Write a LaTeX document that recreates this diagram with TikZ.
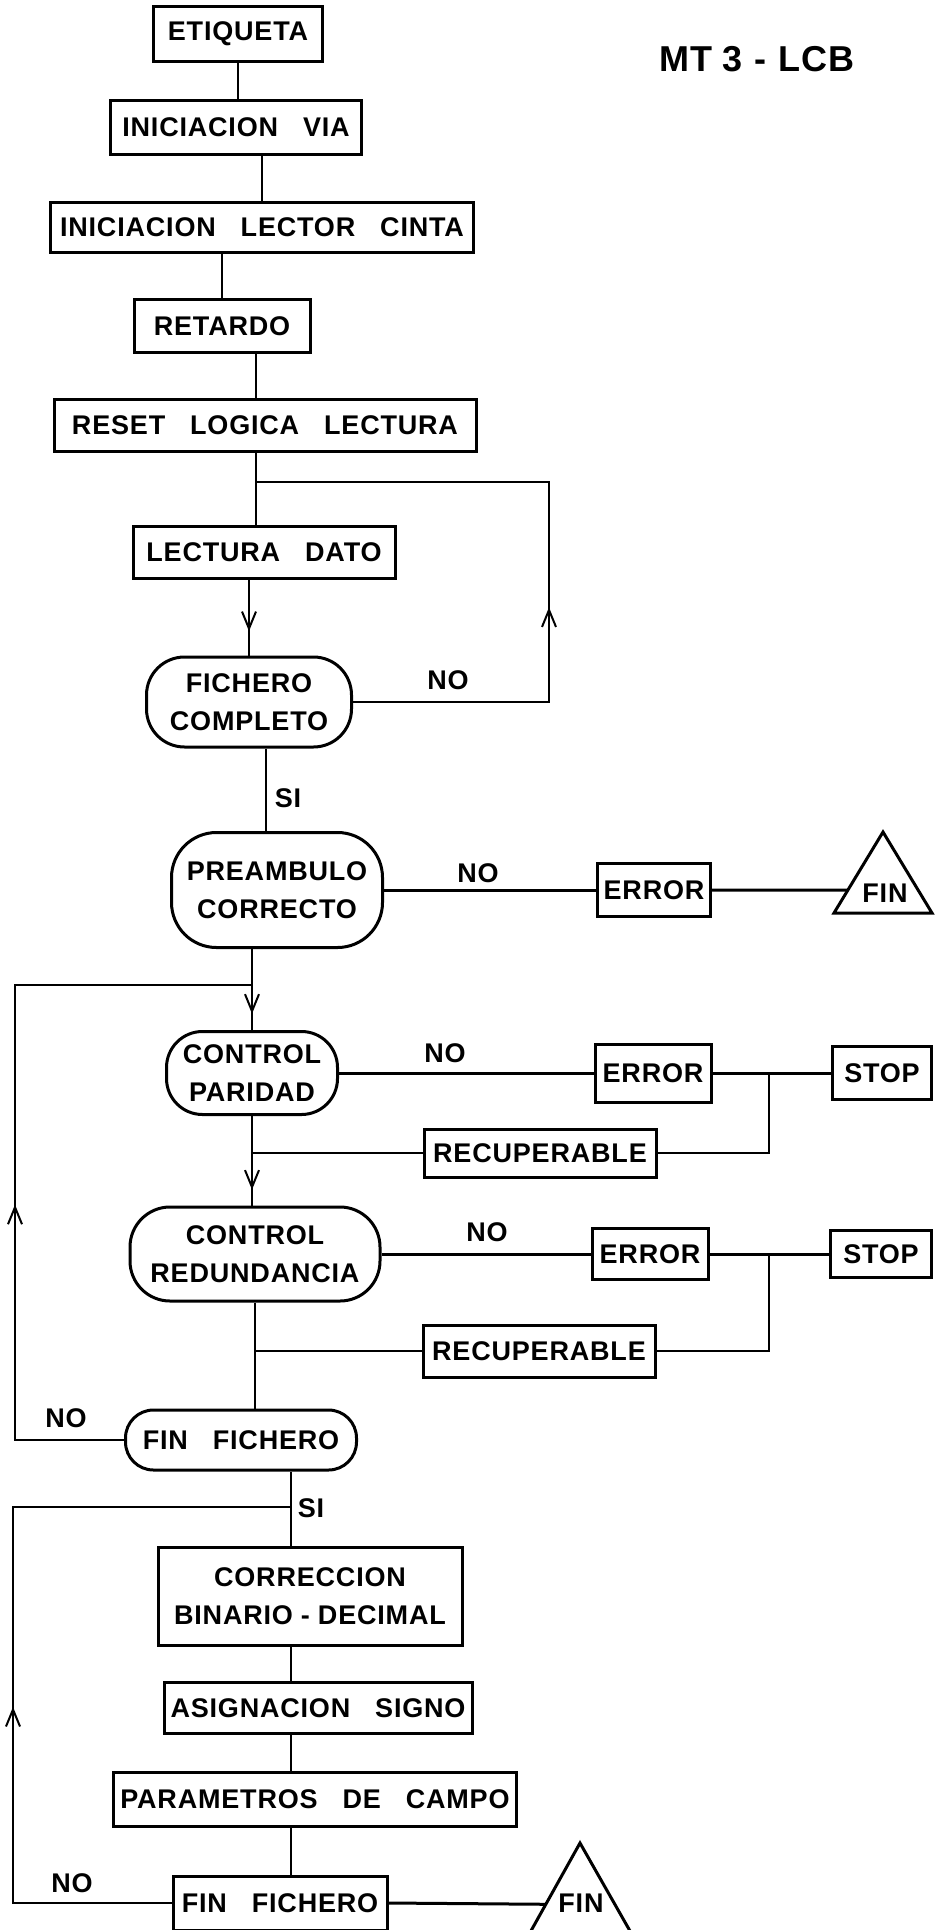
\documentclass[tikz,border=0pt]{standalone}
\usepackage{fontspec}
\setmainfont{Liberation Sans}[LetterSpace=3,WordSpace=3]
\usetikzlibrary{arrows.meta,decorations.markings,calc}
\newcommand\flowfont{\fontsize{27}{38}\selectfont\bfseries}
\tikzset{
  stepbox/.style={draw, line width=3pt, inner sep=0pt, align=center, font=\flowfont},
  decbox/.style={stepbox, rounded corners=#1},
  lab/.style={inner sep=0pt, font=\flowfont},
  conn/.style={line width=2pt, line join=miter},
  hconn/.style={line width=3pt},
  arrowat/.style={postaction={decorate}, decoration={markings, mark=at position #1 with {\arrow{Straight Barb[length=17pt,width=14pt,line width=2pt]}}}},
}
\begin{document}
\begin{tikzpicture}[x=1pt,y=-1pt]
\fill[white] (0,0) rectangle (937,1930);
\useasboundingbox (0,0) rectangle (937,1930);

% title
\node[lab, font=\fontsize{36}{42}\selectfont\bfseries] (title) at (757,59) {MT\hspace{10pt}3\hspace{12pt}-\hspace{12pt}LCB};

% boxes
\node[stepbox, minimum width=169pt, minimum height=55pt] (etiq) at (238,34) {ETIQUETA};
\node[stepbox, minimum width=251pt, minimum height=54pt] (iv) at (236,127) {INICIACION VIA};
\node[stepbox, minimum width=423pt, minimum height=50pt] (ilc) at (262,227) {INICIACION LECTOR CINTA};
\node[stepbox, minimum width=176pt, minimum height=53pt] (ret) at (222,326) {RETARDO};
\node[stepbox, minimum width=422pt, minimum height=52pt] (rll) at (265,425) {RESET LOGICA LECTURA};
\node[stepbox, minimum width=262pt, minimum height=52pt] (ld) at (264,552) {LECTURA DATO};
\node[decbox=38pt, minimum width=205pt, minimum height=90pt] (fc) at (249,702) {FICHERO\\COMPLETO};
\node[decbox=45pt, minimum width=211pt, minimum height=115pt] (pc) at (277,890) {PREAMBULO\\CORRECTO};
\node[stepbox, minimum width=113pt, minimum height=53pt] (err1) at (654,890) {ERROR};
\node[decbox=36pt, minimum width=171pt, minimum height=83pt] (cp) at (252,1073) {CONTROL\\PARIDAD};
\node[stepbox, minimum width=116pt, minimum height=58pt] (err2) at (653,1073) {ERROR};
\node[stepbox, minimum width=99pt, minimum height=53pt] (stop1) at (882,1073) {STOP};
\node[stepbox, minimum width=232pt, minimum height=48pt] (rec1) at (540,1153) {RECUPERABLE};
\node[decbox=40pt, minimum width=250pt, minimum height=94pt] (cr) at (255,1254) {CONTROL\\REDUNDANCIA};
\node[stepbox, minimum width=116pt, minimum height=51pt] (err3) at (650,1254) {ERROR};
\node[stepbox, minimum width=101pt, minimum height=47pt] (stop2) at (881,1254) {STOP};
\node[stepbox, minimum width=232pt, minimum height=52pt] (rec2) at (539,1351) {RECUPERABLE};
\node[decbox=28pt, minimum width=231pt, minimum height=60pt] (ff1) at (241,1440) {FIN FICHERO};
\node[stepbox, minimum width=304pt, minimum height=98pt] (corr) at (310,1596) {CORRECCION\\BINARIO\hspace{8pt}-\hspace{8pt}DECIMAL};
\node[stepbox, minimum width=308pt, minimum height=51pt] (asig) at (318,1708) {ASIGNACION SIGNO};
\node[stepbox, minimum width=403pt, minimum height=54pt] (param) at (315,1799) {PARAMETROS DE CAMPO};
\node[stepbox, minimum width=214pt, minimum height=54pt] (ff2) at (280,1903) {FIN FICHERO};

% end triangles
\coordinate (f1a) at (883,832); \coordinate (f1l) at (834,913); \coordinate (f1r) at (932,913);
\draw[line width=3pt, line join=miter] (f1a) -- (f1l) -- (f1r) -- cycle;
\node[lab] (fin1) at (885,893) {FIN};
\coordinate (f2a) at (580,1843); \coordinate (f2l) at (527,1938); \coordinate (f2r) at (634,1938);
\draw[line width=3pt, line join=miter] (f2a) -- (f2l) -- (f2r) -- cycle;
\node[lab] (fin2) at (581,1903) {FIN};

% labels
\node[lab] (no1) at (448,680) {NO};
\node[lab] (si1) at (288,798) {SI};
\node[lab] (no2) at (478,873) {NO};
\node[lab] (no3) at (445,1053) {NO};
\node[lab] (no4) at (487,1232) {NO};
\node[lab] (no5) at (66,1418) {NO};
\node[lab] (si2) at (311,1508) {SI};
\node[lab] (no6) at (72,1883) {NO};

% junction points
\coordinate (jT) at (256,482);
\coordinate (jTr) at (549,482);
\coordinate (jA) at (252,985);
\coordinate (lA) at (15,985);
\coordinate (k1) at (769,1073);
\coordinate (k2) at (769,1254);
\coordinate (jR1) at (252,1153);
\coordinate (jR2) at (255,1351);
\coordinate (jC) at (291,1507);
\coordinate (lC) at (13,1507);

% connectors
\draw[conn] (etiq.south) -- (etiq.south |- iv.north);
\draw[conn] (iv.south -| ilc.north) -- (ilc.north);
\draw[conn] (ret.north |- ilc.south) -- (ret.north);
\draw[conn] (ret.south -| jT) -- (rll.north -| jT);
\draw[conn] (rll.south -| jT) -- (ld.north -| jT);
\draw[conn, arrowat=0.41] (fc.east) -- (fc.east -| jTr) -- (jTr) -- (jT);
\draw[conn, arrowat=0.68] (ld.south -| fc.north) -- (fc.north);
\draw[conn] ([xshift=17pt]fc.south) -- ([xshift=17pt]fc.south |- pc.north);
\draw[hconn] (pc.east) -- (err1.west);
\draw[hconn] (err1.east) -- ($(f1a)!0.716!(f1l)$);
\draw[conn] (pc.south -| jA) -- (jA);
\draw[conn, arrowat=0.64] (jA) -- (cp.north);
\draw[conn, arrowat=0.43] (ff1.west) -- (ff1.west -| lA) -- (lA) -- (jA);
\draw[hconn] (cp.east) -- (err2.west);
\draw[hconn] (err2.east) -- (stop1.west);
\draw[conn] (k1) -- (k1 |- rec1.east) -- (rec1.east);
\draw[conn] (rec1.west) -- (jR1);
\draw[conn] (cp.south) -- (jR1);
\draw[conn, arrowat=0.7] (jR1) -- (jR1 |- cr.north);
\draw[hconn] (cr.east) -- (err3.west);
\draw[hconn] (err3.east) -- (stop2.west);
\draw[conn] (k2) -- (k2 |- rec2.east) -- (rec2.east);
\draw[conn] (rec2.west) -- (jR2);
\draw[conn] (cr.south -| jR2) -- (jR2) -- (ff1.north -| jR2);
\draw[conn] (ff1.south -| jC) -- (jC) -- (corr.north -| jC);
\draw[conn, arrowat=0.426] (ff2.west) -- (ff2.west -| lC) -- (lC) -- (jC);
\draw[conn] (corr.south -| jC) -- (asig.north -| jC);
\draw[conn] (asig.south -| jC) -- (param.north -| jC);
\draw[conn] (param.south -| jC) -- (ff2.north -| jC);
\draw[hconn] (ff2.east) -- ($(f2a)!0.645!(f2l)$);
\end{tikzpicture}
\end{document}
